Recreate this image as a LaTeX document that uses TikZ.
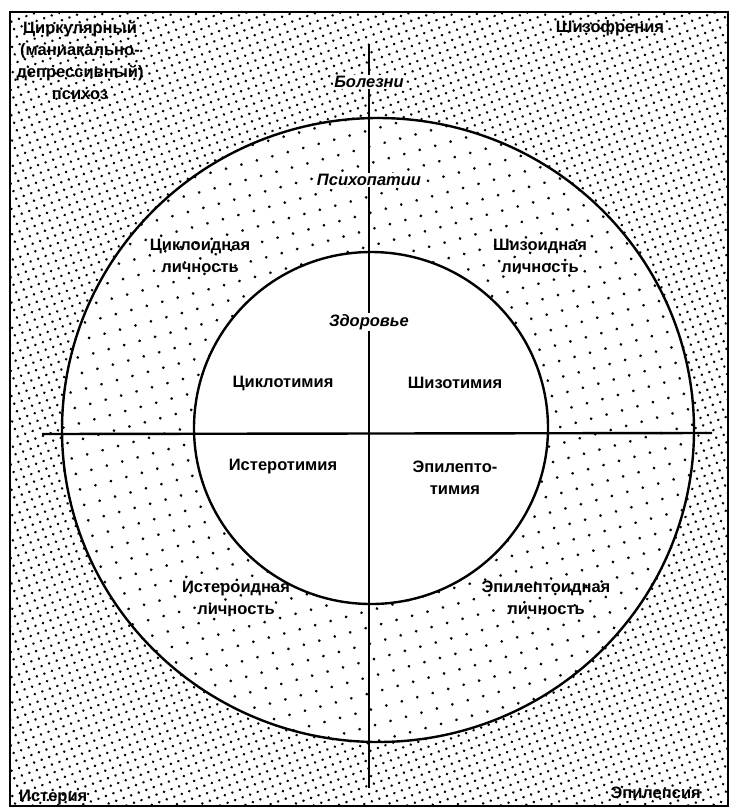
\documentclass[tikz,border=0pt]{standalone}
\usepackage{fontspec}
\setmainfont{Liberation Sans}
\usetikzlibrary{patterns.meta}
\begin{document}
\begin{tikzpicture}[x=1pt,y=-1pt,
  lbl/.style={font=\bfseries\fontsize{16.5}{22}\selectfont, align=center, inner sep=1pt},
  axislbl/.style={font=\bfseries\itshape\fontsize{16.5}{22}\selectfont, fill=white, inner sep=1.5pt},
  ring/.style={line width=2.4pt},
  axis/.style={line width=2.4pt}]
\useasboundingbox (0,0) rectangle (733,809);
% dense dots outside
\fill[pattern={Dots[distance=8pt,radius=1.4pt,angle=20]}] (10,12) rectangle (728,806);
% middle ring
\fill[white] (378,430) ellipse [x radius=316, y radius=312];
\fill[pattern={Dots[distance=16pt,radius=1.5pt,angle=15]}] (378,430) ellipse [x radius=316, y radius=312];
% inner white
\fill[white] (371,428) ellipse [x radius=177, y radius=176];
\draw[ring] (378,430) ellipse [x radius=316, y radius=312];
\draw[ring] (371,428) ellipse [x radius=177, y radius=176];
% border
\draw[line width=1.8pt] (10,12) rectangle (728,806);
% axes
\coordinate (T) at (369,44);
\coordinate (B) at (369,788);
\coordinate (L) at (42,434);
\coordinate (R) at (712,433);
\draw[axis] (T) -- (B);
\draw[axis] (L) -- (R);
% axis labels
\node[axislbl] (bol) at (369,82) {Болезни};
\node[axislbl] (psy) at (369,180) {Психопатии};
\node[axislbl] (zdr) at (369,322) {Здоровье};
% corner texts
\node[lbl] (cir) at (80,60) {Циркулярный\\(маниакально-\\депрессивный)\\психоз};
\node[lbl] (shz) at (610,28) {Шизофрения};
\node[lbl, anchor=south west] (ist) at (18,806) {Истерия};
\node[lbl, anchor=south east] (epi) at (702,800) {Эпилепсия};
% middle ring
\node[lbl] (cid) at (200,256) {Циклоидная\\личность};
\node[lbl] (shd) at (540,256) {Шизоидная\\личность};
\node[lbl] (isd) at (236,598) {Истероидная\\личность};
\node[lbl] (epd) at (546,598) {Эпилептоидная\\личность};
% inner
\node[lbl] (cit) at (283,383) {Циклотимия};
\node[lbl] (sht) at (455,383) {Шизотимия};
\node[lbl] (ist2) at (283,467) {Истеротимия};
\node[lbl] (ept) at (455,478) {Эпилепто-\\тимия};
\end{tikzpicture}
\end{document}
